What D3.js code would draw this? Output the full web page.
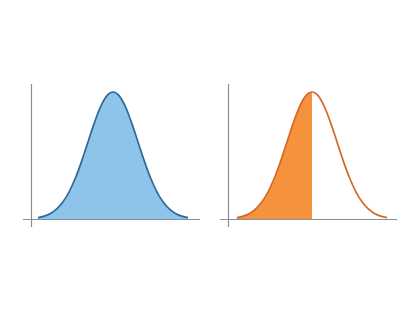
<!DOCTYPE html>
<html><head><meta charset="utf-8">
<script src="https://cdn.jsdelivr.net/npm/d3@7/dist/d3.min.js"></script>
<style>html,body{margin:0;padding:0;background:#fff;}svg{display:block;}</style>
</head><body>
<svg id="c" width="420" height="314"></svg>
<script>
// z-values along the horizontal axis
const zValues = [-3,-2.75,-2.5,-2.25,-2,-1.75,-1.5,-1.25,-1,-0.75,-0.5,-0.25,0,0.25,0.5,0.75,1,1.25,1.5,1.75,2,2.25,2.5,2.75,3];
// density heights
const density = [0.0044,0.0091,0.0175,0.0317,0.054,0.0863,0.1295,0.1826,0.242,0.3011,0.3521,0.3867,0.3989,0.3867,0.3521,0.3011,0.242,0.1826,0.1295,0.0863,0.054,0.0317,0.0175,0.0091,0.0044];
// right panel shaded up to this z
const shadeUpTo = 0;

const pts = zValues.map((z,i)=>({z, d: density[i]}));
const svg = d3.select("#c");

const panels = [
  {x0:38, x1:188, axisX:31, axisL:23, axisR:200, fill:"#8ec4ea", stroke:"#2c6a9c", shadeAll:true},
  {x0:237, x1:387, axisX:228, axisL:220, axisR:397, fill:"#f5923b", stroke:"#d2692a", shadeAll:false}
];

const baseY = 219, topY = 92;
const y = d3.scaleLinear().domain([0, 0.3989]).range([baseY, topY]);

panels.forEach(p=>{
  const x = d3.scaleLinear().domain([-3,3]).range([p.x0,p.x1]);
  const g = svg.append("g");
  // axes
  g.append("line").attr("x1",p.axisX+0.5).attr("x2",p.axisX+0.5).attr("y1",84).attr("y2",227)
    .attr("stroke","#868e96").attr("stroke-width",1.2);
  g.append("line").attr("x1",p.axisL).attr("x2",p.axisR).attr("y1",baseY+0.5).attr("y2",baseY+0.5)
    .attr("stroke","#868e96").attr("stroke-width",1.2);
  const shaded = p.shadeAll ? pts : pts.filter(d=>d.z<=shadeUpTo);
  const area = d3.area().x(d=>x(d.z)).y0(baseY).y1(d=>y(d.d)).curve(d3.curveMonotoneX);
  g.append("path").datum(shaded).attr("d",area).attr("fill",p.fill);
  const line = d3.line().x(d=>x(d.z)).y(d=>y(d.d)).curve(d3.curveMonotoneX);
  g.append("path").datum(pts).attr("d",line).attr("fill","none").attr("stroke",p.stroke).attr("stroke-width",1.7);
});
</script>
</body></html>
